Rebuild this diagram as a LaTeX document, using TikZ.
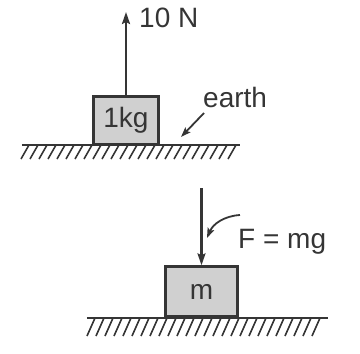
\documentclass[tikz,border=0pt]{standalone}
\usepackage{fontspec}
\setmainfont{Liberation Sans}
\usetikzlibrary{arrows.meta}
\definecolor{ink}{HTML}{353535}
\definecolor{boxfill}{HTML}{D0D0D0}
\tikzset{
  block/.style={draw=ink, fill=boxfill, line width=2.4pt, inner sep=0pt, text=ink},
  lbl/.style={text=ink, inner sep=0pt, font=\fontsize{28}{30}\selectfont},
  ground/.style={draw=ink, line width=2.2pt},
  hatch/.style={draw=ink, line width=1.6pt},
  force/.style={draw=ink, line width=2.2pt, ->}
}
\begin{document}
\begin{tikzpicture}[x=1pt, y=-1pt, >={Stealth[length=12pt, width=8pt, inset=2pt]}]
\useasboundingbox (0,0) rectangle (360,354);

\node[block, minimum width=65pt, minimum height=48pt, font=\fontsize{28}{30}\selectfont] (kg) at (126,120.5) {1kg};
\coordinate (up) at (126,12);
\draw[force] (kg.north) -- (up);
\node[lbl, anchor=base west] (ten) at (139,27) {10 N};
\node[lbl, anchor=base west] (earth) at (203,107) {earth};
\coordinate (earthtail) at (204,113);
\coordinate (earthtip) at (181,137);
\draw[force, line width=1.8pt, >={Stealth[length=10pt, width=7pt, inset=2pt]}] (earthtail) -- (earthtip);
\draw[ground] (22,145) -- (240,145);
\foreach \x in {29,38,...,240}
  \draw[hatch] (\x,145) -- (\x-8,159);

\node[block, minimum width=72pt, minimum height=50pt, font=\fontsize{28}{30}\selectfont] (m) at (201.5,291.5) {m};
\coordinate (down) at (201.5,188);
\draw[force] (down) -- (m.north);
\node[lbl, anchor=base west] (F) at (238,248) {F = mg};
\coordinate (ftail) at (240,215);
\coordinate (ftip) at (207,238);
\draw[force, line width=1.8pt, >={Stealth[length=10pt, width=7pt, inset=2pt]}] (ftail) .. controls (224,216) and (213,224) .. (ftip);
\draw[ground] (87,318) -- (328,318);
\foreach \x in {95,104,...,328}
  \draw[hatch] (\x,318) -- (\x-8,336);
\end{tikzpicture}
\end{document}
